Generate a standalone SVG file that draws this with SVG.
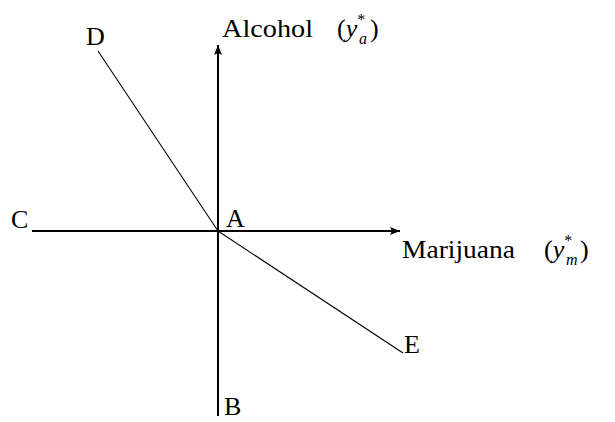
<svg xmlns="http://www.w3.org/2000/svg" width="615" height="422" viewBox="0 0 615 422">
<style>
.t{font-family:"Liberation Serif","DejaVu Serif",serif;font-size:26px;fill:#000}
.i{font-style:italic}
.s{font-size:16px}
.ax{stroke:#000;stroke-width:2;fill:none}
.dg{stroke:#000;stroke-width:1.1;fill:none}
</style>
<defs>
<marker id="arr" viewBox="0 0 10 8" refX="10" refY="4" markerWidth="10" markerHeight="8" markerUnits="userSpaceOnUse" orient="auto">
<path d="M0,0 L10,4 L0,8 L2,4 Z" fill="#000"/>
</marker>
</defs>
<rect width="615" height="422" fill="#fff"/>
<g id="connectors">
<line class="ax" x1="218" y1="416" x2="218" y2="45" marker-end="url(#arr)"/>
<line class="ax" x1="32" y1="231" x2="400" y2="231" marker-end="url(#arr)"/>
<line class="dg" x1="98" y1="51" x2="218" y2="231"/>
<line class="dg" x1="218" y1="231" x2="403" y2="353"/>
</g>
<g id="A"><text class="t" x="226" y="227">A</text></g>
<g id="B"><text class="t" x="224" y="415">B</text></g>
<g id="C"><text class="t" x="11" y="228">C</text></g>
<g id="D"><text class="t" x="86" y="45">D</text></g>
<g id="E"><text class="t" x="404" y="353">E</text></g>
<g id="alcohol"><text class="t" x="222" y="37"><tspan textLength="91" lengthAdjust="spacingAndGlyphs">Alcohol</tspan><tspan x="337">(</tspan><tspan class="i">y</tspan><tspan class="s" dy="-12">*</tspan></text><text class="t" x="359" y="44"><tspan class="s i">a</tspan></text><text class="t" x="370" y="37">)</text></g>
<g id="marijuana"><text class="t" x="402" y="258"><tspan textLength="113" lengthAdjust="spacingAndGlyphs">Marijuana</tspan><tspan x="544">(</tspan><tspan class="i">y</tspan><tspan class="s" dy="-12">*</tspan></text><text class="t" x="566" y="265"><tspan class="s i">m</tspan></text><text class="t" x="580" y="258">)</text></g>
</svg>
